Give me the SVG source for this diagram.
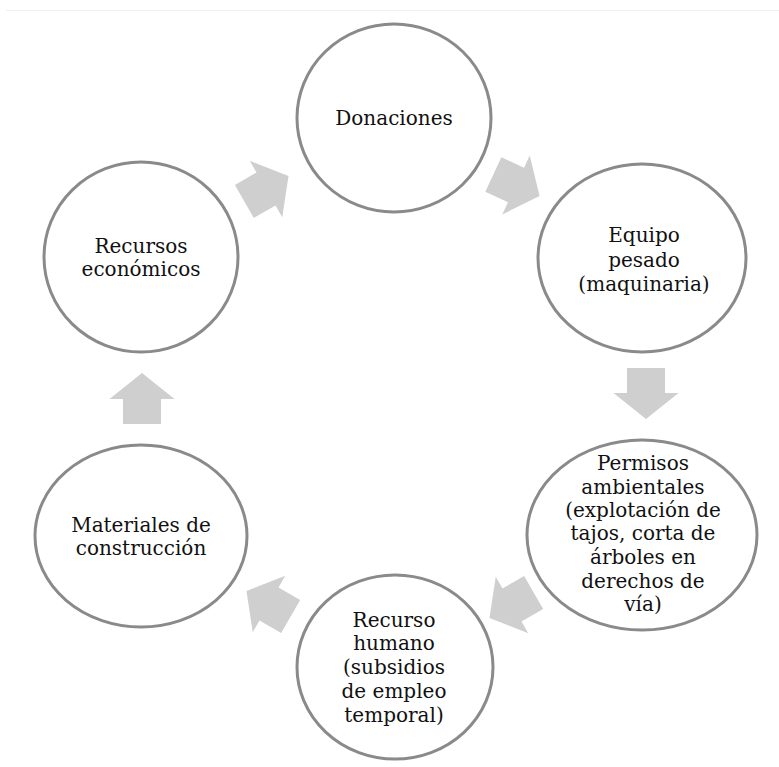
<svg xmlns="http://www.w3.org/2000/svg" xmlns:xlink="http://www.w3.org/1999/xlink" width="779" height="767" viewBox="0 0 779 767">
<style>
.node{fill:#fff;stroke:#8a8a8a;stroke-width:3}
.lbl{font-family:"DejaVu Serif","Liberation Serif",serif;font-size:20px;fill:#111;text-anchor:middle}
.arrow{fill:#cfcfcf}
</style>
<defs>
<path id="arr" d="M-25,-19 L0,-19 L0,-32.5 L26,0 L0,32.5 L0,19 L-25,19 Z"/>
</defs>
<rect width="779" height="767" fill="#fff"/>
<line x1="6" y1="10.5" x2="779" y2="10.5" stroke="#efefef" stroke-width="1"/>
<g id="connectors" class="arrow">
<use xlink:href="#arr" transform="translate(266,189) rotate(-30)"/>
<use xlink:href="#arr" transform="translate(516,185) rotate(25)"/>
<use xlink:href="#arr" transform="translate(646,393) rotate(90)"/>
<use xlink:href="#arr" transform="translate(512,605) rotate(150)"/>
<use xlink:href="#arr" transform="translate(269,604) rotate(210)"/>
<use xlink:href="#arr" transform="translate(142,399) rotate(-90)"/>
</g>
<g id="donaciones">
<ellipse class="node" cx="394" cy="118" rx="97" ry="94"/>
<text class="lbl" x="394" y="125">Donaciones</text>
</g>
<g id="equipo">
<ellipse class="node" cx="642" cy="258" rx="104" ry="94"/>
<text class="lbl" x="644" y="242">Equipo</text>
<text class="lbl" x="644" y="267">pesado</text>
<text class="lbl" x="644" y="291">(maquinaria)</text>
</g>
<g id="permisos">
<ellipse class="node" cx="642" cy="535" rx="115" ry="95"/>
<text class="lbl" x="643" y="470">Permisos</text>
<text class="lbl" x="643" y="494">ambientales</text>
<text class="lbl" x="643" y="517">(explotación de</text>
<text class="lbl" x="643" y="540">tajos, corta de</text>
<text class="lbl" x="643" y="564">árboles en</text>
<text class="lbl" x="643" y="588">derechos de</text>
<text class="lbl" x="643" y="611">vía)</text>
</g>
<g id="recurso-humano">
<ellipse class="node" cx="395" cy="667" rx="98" ry="92"/>
<text class="lbl" x="394" y="627">Recurso</text>
<text class="lbl" x="394" y="650">humano</text>
<text class="lbl" x="394" y="674">(subsidios</text>
<text class="lbl" x="394" y="698">de empleo</text>
<text class="lbl" x="394" y="722">temporal)</text>
</g>
<g id="materiales">
<ellipse class="node" cx="141" cy="536" rx="106" ry="91"/>
<text class="lbl" x="141" y="532">Materiales de</text>
<text class="lbl" x="141" y="555">construcción</text>
</g>
<g id="recursos-economicos">
<ellipse class="node" cx="141" cy="257" rx="97" ry="95"/>
<text class="lbl" x="141" y="253">Recursos</text>
<text class="lbl" x="141" y="276">económicos</text>
</g>
</svg>
